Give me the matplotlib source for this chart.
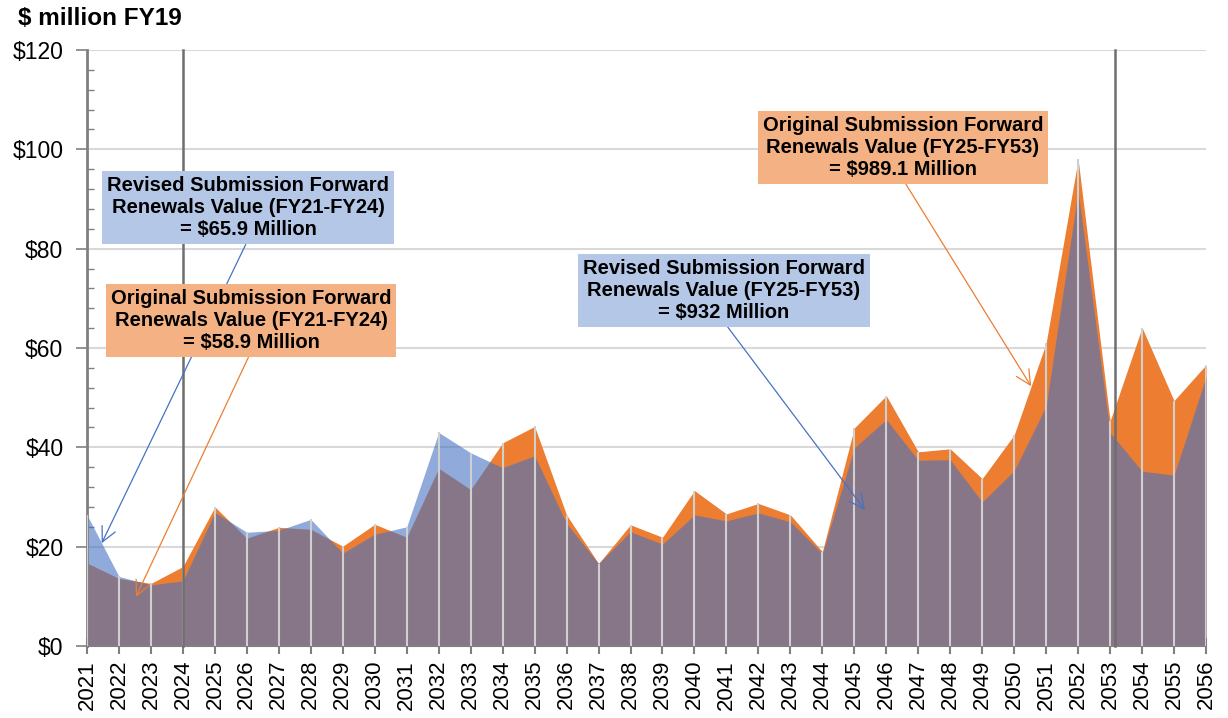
import numpy as np
import matplotlib.pyplot as plt
from matplotlib.ticker import MultipleLocator, FuncFormatter

plt.rcParams['font.family'] = ['Liberation Sans', 'DejaVu Sans']

years = np.arange(2021, 2057)
# Original submission (orange) and revised submission (blue), $ million FY19
original = [16.7, 13.6, 12.6, 16.0, 28.0, 21.7, 23.9, 23.5, 20.1, 24.5,
            21.9, 35.8, 31.5, 40.9, 44.2, 26.4, 16.6, 24.4, 21.9, 31.3,
            26.6, 28.7, 26.4, 19.0, 43.9, 50.4, 39.1, 39.7, 33.7, 42.5,
            61.0, 98.0, 45.3, 64.1, 49.4, 56.6]
revised = [26.4, 14.0, 12.3, 13.1, 26.9, 22.9, 23.3, 25.5, 18.7, 22.5,
           24.0, 43.0, 38.9, 35.9, 38.3, 24.7, 16.6, 23.0, 20.5, 26.4,
           25.2, 26.8, 25.0, 18.6, 39.9, 45.6, 37.4, 37.5, 29.0, 35.3,
           48.3, 91.6, 43.0, 35.2, 34.4, 54.2]

period_marks = [2024, 2053.15]

notes = [
    ("Revised Submission Forward\nRenewals Value (FY21-FY24)\n= $65.9 Million",
     (2026.04, 88.2), (2021.46, 20.7), "#B4C7E7", "#4472C4"),
    ("Original Submission Forward\nRenewals Value (FY21-FY24)\n= $58.9 Million",
     (2026.13, 65.6), (2022.53, 9.9), "#F4B183", "#ED7D31"),
    ("Revised Submission Forward\nRenewals Value (FY25-FY53)\n= $932 Million",
     (2040.92, 71.6), (2045.33, 27.4), "#B4C7E7", "#4472C4"),
    ("Original Submission Forward\nRenewals Value (FY25-FY53)\n= $989.1 Million",
     (2046.52, 100.3), (2050.53, 52.3), "#F4B183", "#ED7D31"),
]

fig = plt.figure(figsize=(12.28, 7.18), dpi=100)
ax = fig.add_axes([87 / 1228, 1 - 646 / 718, (1206 - 87) / 1228, (646 - 50) / 718])

orig = np.array(original)
rev = np.array(revised)

ax.fill_between(years, 0, orig, color="#ED7D31", lw=0, zorder=2)
ax.fill_between(years, 0, rev, color="#4472C4", alpha=0.6, lw=0, zorder=2.5)

# drop lines
ax.vlines(years, 0, np.maximum(orig, rev), color="#D0D0D0", lw=1.5, zorder=3)

for xm in period_marks:
    ax.plot([xm, xm], [0, 120], color="#6E6E6E", lw=1.8, zorder=4, clip_on=False)

ax.set_xlim(2021, 2056)
ax.set_ylim(0, 120)
ax.yaxis.set_major_locator(MultipleLocator(20))
ax.yaxis.set_minor_locator(MultipleLocator(4))
ax.yaxis.set_major_formatter(FuncFormatter(lambda v, p: f"${v:.0f}"))
ax.set_xticks(years)
ax.set_xticklabels([str(y) for y in years], rotation=90)

ax.grid(axis="y", which="major", color="#D9D9D9", lw=1.5, zorder=0)
ax.set_axisbelow(True)

for s in ["top", "right"]:
    ax.spines[s].set_visible(False)
ax.spines["left"].set_color("#808080")
ax.spines["left"].set_linewidth(2)
ax.spines["bottom"].set_color("#808080")
ax.spines["bottom"].set_linewidth(1.5)

ax.tick_params(axis="y", which="major", direction="out", length=8, width=1.2,
               color="#808080", labelsize=16.5, pad=9)
ax.tick_params(axis="y", which="minor", direction="in", length=5, width=1.0,
               color="#808080")
ax.tick_params(axis="x", which="major", direction="inout", length=12, width=1.5,
               color="#808080", labelsize=16, pad=4)

for txt, xy_txt, xy_tip, fc, lc in notes:
    ax.annotate(txt, xy=xy_tip, xytext=xy_txt, ha="center", va="center",
                fontsize=14.5, fontweight="bold", color="black", zorder=6,
                linespacing=1.2,
                bbox=dict(boxstyle="square,pad=0.25", fc=fc, ec="none"),
                arrowprops=dict(arrowstyle="->,head_length=0.7,head_width=0.35",
                                color=lc, lw=0.9, relpos=(0.5, 0.0),
                                shrinkA=0, shrinkB=0, mutation_scale=15))

fig.text(18 / 1228, 1 - 7 / 718, "$ million FY19", ha="left", va="top",
         fontsize=17.5, fontweight="bold")

fig.savefig("out.png", dpi=100)
